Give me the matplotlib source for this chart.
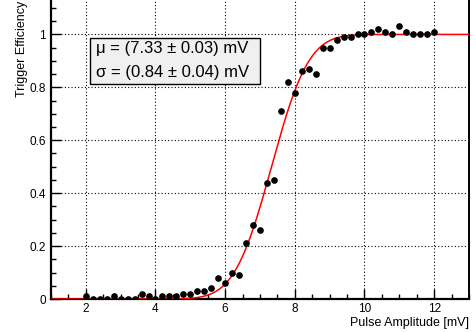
import math
import numpy as np
import matplotlib.pyplot as plt
from matplotlib.patches import Rectangle
from matplotlib.ticker import MultipleLocator, FixedLocator

plt.rcParams['font.family'] = ['Liberation Sans', 'DejaVu Sans']

# measured trigger efficiency, 0.2 mV steps
amplitude = np.round(np.arange(2.0, 12.01, 0.2), 1)
efficiency = [0.01, 0.0, 0.0, 0.0, 0.01, 0.0, 0.0, 0.0, 0.02, 0.01,
              0.0, 0.01, 0.01, 0.01, 0.02, 0.02, 0.03, 0.03, 0.04, 0.08,
              0.06, 0.10, 0.09, 0.21, 0.28, 0.26, 0.44, 0.45, 0.71, 0.82,
              0.78, 0.86, 0.87, 0.85, 0.95, 0.95, 0.98, 0.99, 0.99, 1.00,
              1.00, 1.01, 1.02, 1.01, 1.00, 1.03, 1.01, 1.00, 1.00, 1.00,
              1.01]

# fit result (error function)
mu, mu_err = 7.33, 0.03
sigma, sigma_err = 0.84, 0.04
yticks = [0, 0.2, 0.4, 0.6, 0.8, 1]
ytick_labels = ["0", "0.2", "0.4", "0.6", "0.8", "1"]
xticks = [2, 4, 6, 8, 10, 12]

xfit = np.linspace(1, 13, 500)
yfit = 0.5 * (1 + np.array([math.erf((v - mu) / (math.sqrt(2) * sigma)) for v in xfit]))

fig = plt.figure(figsize=(4.77, 3.32), dpi=100)
ax = fig.add_axes([51/477, 33/332, 418/477, 302/332])

ax.plot(xfit, yfit, color='#ff0000', lw=1.1, zorder=3)
ax.plot(amplitude, efficiency, 'o', color='black', ms=3.8, zorder=4)

ax.set_xlim(1, 13)
ax.set_ylim(0, 1.1415)
ax.xaxis.set_major_locator(FixedLocator(xticks))
ax.xaxis.set_minor_locator(MultipleLocator(0.5))
ax.yaxis.set_major_locator(FixedLocator(yticks))
ax.set_yticklabels(ytick_labels)
ax.yaxis.set_minor_locator(MultipleLocator(0.05))
ax.tick_params(which='both', direction='in', labelsize=8.5, colors='black')
ax.tick_params(which='major', length=7, width=1)
ax.tick_params(which='minor', length=3.5, width=1)
ax.tick_params(axis='x', pad=3)
ax.grid(True, which='major', color='black', lw=0.8, linestyle=(0, (1, 2)))
ax.set_axisbelow(True)
for s in ['left', 'bottom']:
    ax.spines[s].set_linewidth(1.6)
ax.spines['right'].set_linewidth(1.4)
ax.spines['top'].set_visible(False)

ax.set_xlabel("Pulse Amplitude [mV]", fontsize=9, ha='right', x=1.0, labelpad=1)
ax.set_ylabel("Trigger Efficiency", fontsize=9, ha='right', y=0.988, labelpad=1)

fig.patches.append(Rectangle((90/477, 248/332), 170/477, 46/332,
                             transform=fig.transFigure, facecolor='#f0f0f0',
                             edgecolor='black', lw=1, zorder=5))
fig.text(96/477, 283/332, "\u03bc = (%.2f \u00b1 %.2f) mV" % (mu, mu_err),
         fontsize=12, va='center', zorder=6)
fig.text(96/477, 260/332, "\u03c3 = (%.2f \u00b1 %.2f) mV" % (sigma, sigma_err),
         fontsize=12, va='center', zorder=6)

fig.savefig("out.png", dpi=100)
